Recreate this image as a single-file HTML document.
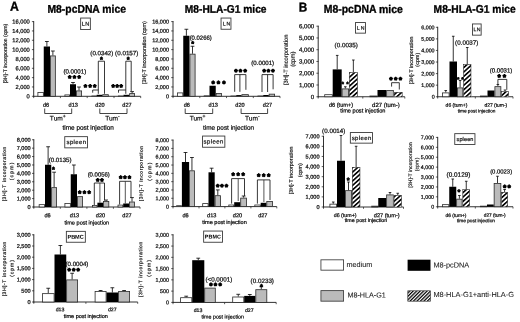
<!DOCTYPE html>
<html lang="en"><head><meta charset="utf-8"><title>Figure</title>
<style>
html,body{margin:0;padding:0;background:#fff}
body{width:520px;height:322px;overflow:hidden}
svg{display:block;filter:blur(0.4px)}
svg text{font-family:"Liberation Sans",sans-serif;text-rendering:geometricPrecision}
</style></head><body>
<svg width="520" height="322" viewBox="0 0 520 322">
<defs>
<pattern id="hatch" patternUnits="userSpaceOnUse" width="3.3" height="3.3" patternTransform="rotate(-42)">
<rect x="0" y="0" width="3.3" height="1.6" fill="#000"/>
</pattern>
<pattern id="hatch2" patternUnits="userSpaceOnUse" width="2.45" height="2.45" patternTransform="rotate(-45)">
<rect x="0" y="0" width="2.45" height="1.25" fill="#000"/>
</pattern>
</defs>
<rect width="520" height="322" fill="#fff"/>
<text transform="translate(9.93 10.83) rotate(0.03) scale(1 1.08)" font-size="12.24" font-weight="bold" fill="#000" stroke="#000" stroke-width="0.3">A</text>
<text transform="translate(47.47 12.67) rotate(0.03) scale(1 1.08)" font-size="10.36" font-weight="bold" fill="#000" stroke="#000" stroke-width="0.3">M8-pcDNA mice</text>
<text transform="translate(184.78 12.77) rotate(0.03) scale(1 1.08)" font-size="10.23" font-weight="bold" fill="#000" stroke="#000" stroke-width="0.3">M8-HLA-G1 mice</text>
<text transform="translate(298.77 11.56) rotate(0.03) scale(1 1.08)" font-size="11.8" font-weight="bold" fill="#000" stroke="#000" stroke-width="0.3">B</text>
<text transform="translate(323.77 12.85) rotate(0.03) scale(1 1.08)" font-size="10.44" font-weight="bold" fill="#000" stroke="#000" stroke-width="0.3">M8-pcDNA mice</text>
<text transform="translate(433.58 12.78) rotate(0.03) scale(1 1.08)" font-size="10.27" font-weight="bold" fill="#000" stroke="#000" stroke-width="0.3">M8-HLA-G1 mice</text>
<line x1="33.7" y1="21.1" x2="33.7" y2="96.7" stroke="#262626" stroke-width="0.95"/>
<line x1="33.3" y1="96.3" x2="140.7" y2="96.3" stroke="#262626" stroke-width="0.95"/>
<line x1="31.9" y1="96.3" x2="34" y2="96.3" stroke="#262626" stroke-width="0.75"/>
<text x="26.61" y="98.31" transform="rotate(0.03 26.61 98.31)" font-size="5.75" stroke="#111111" stroke-width="0.24" fill="#111111">0</text>
<line x1="31.9" y1="86.96" x2="34" y2="86.96" stroke="#262626" stroke-width="0.75"/>
<text x="15.4" y="88.98" transform="rotate(0.03 15.4 88.98)" font-size="5.75" stroke="#111111" stroke-width="0.24" fill="#111111">2,000</text>
<line x1="31.9" y1="77.62" x2="34" y2="77.62" stroke="#262626" stroke-width="0.75"/>
<text x="15.4" y="79.64" transform="rotate(0.03 15.4 79.64)" font-size="5.75" stroke="#111111" stroke-width="0.24" fill="#111111">4,000</text>
<line x1="31.9" y1="68.29" x2="34" y2="68.29" stroke="#262626" stroke-width="0.75"/>
<text x="15.4" y="70.3" transform="rotate(0.03 15.4 70.3)" font-size="5.75" stroke="#111111" stroke-width="0.24" fill="#111111">6,000</text>
<line x1="31.9" y1="58.95" x2="34" y2="58.95" stroke="#262626" stroke-width="0.75"/>
<text x="15.4" y="60.96" transform="rotate(0.03 15.4 60.96)" font-size="5.75" stroke="#111111" stroke-width="0.24" fill="#111111">8,000</text>
<line x1="31.9" y1="49.61" x2="34" y2="49.61" stroke="#262626" stroke-width="0.75"/>
<text x="12.24" y="51.63" transform="rotate(0.03 12.24 51.63)" font-size="5.75" stroke="#111111" stroke-width="0.24" fill="#111111">10,000</text>
<line x1="31.9" y1="40.28" x2="34" y2="40.28" stroke="#262626" stroke-width="0.75"/>
<text x="12.24" y="42.29" transform="rotate(0.03 12.24 42.29)" font-size="5.75" stroke="#111111" stroke-width="0.24" fill="#111111">12,000</text>
<line x1="31.9" y1="30.94" x2="34" y2="30.94" stroke="#262626" stroke-width="0.75"/>
<text x="12.24" y="32.95" transform="rotate(0.03 12.24 32.95)" font-size="5.75" stroke="#111111" stroke-width="0.24" fill="#111111">14,000</text>
<line x1="31.9" y1="21.6" x2="34" y2="21.6" stroke="#262626" stroke-width="0.75"/>
<text x="12.24" y="23.61" transform="rotate(0.03 12.24 23.61)" font-size="5.75" stroke="#111111" stroke-width="0.24" fill="#111111">16,000</text>
<line x1="33.7" y1="96.3" x2="33.7" y2="98.1" stroke="#262626" stroke-width="0.75"/>
<line x1="60.4" y1="96.3" x2="60.4" y2="98.1" stroke="#262626" stroke-width="0.75"/>
<line x1="87.2" y1="96.3" x2="87.2" y2="98.1" stroke="#262626" stroke-width="0.75"/>
<line x1="114" y1="96.3" x2="114" y2="98.1" stroke="#262626" stroke-width="0.75"/>
<line x1="140.7" y1="96.3" x2="140.7" y2="98.1" stroke="#262626" stroke-width="0.75"/>
<text transform="translate(6.89 83.36) rotate(-89.97)" font-size="5.12" fill="#1c1c1c" stroke="#1c1c1c" stroke-width="0.2">[3H]-T incorporation (cpm)</text>
<rect x="80.65" y="18.05" width="9.7" height="11.5" fill="#fff" stroke="#3a3a3a" stroke-width="0.9"/>
<text x="81.85" y="25.66" transform="rotate(0.03 81.85 25.66)" font-size="5.6" letter-spacing="0.33" fill="#000" stroke="#000" stroke-width="0.16">LN</text>
<rect x="37.9" y="92.4" width="5.45" height="3.9" fill="#ffffff" stroke="#2a2a2a" stroke-width="0.8"/>
<line x1="46.88" y1="41.5" x2="46.88" y2="46.5" stroke="#000" stroke-width="0.8"/>
<line x1="44.98" y1="41.5" x2="48.77" y2="41.5" stroke="#000" stroke-width="0.8"/>
<rect x="43.75" y="46.5" width="6.25" height="49.8" fill="#000"/>
<line x1="52.88" y1="51" x2="52.88" y2="55.5" stroke="#000" stroke-width="0.8"/>
<line x1="50.98" y1="51" x2="54.77" y2="51" stroke="#000" stroke-width="0.8"/>
<rect x="50.4" y="55.9" width="4.95" height="40.4" fill="#bbbbbb" stroke="#2a2a2a" stroke-width="0.8"/>
<rect x="64.9" y="94.9" width="4.7" height="1.4" fill="#ffffff" stroke="#2a2a2a" stroke-width="0.8"/>
<line x1="73" y1="82.5" x2="73" y2="84.25" stroke="#000" stroke-width="0.8"/>
<line x1="71.1" y1="82.5" x2="74.9" y2="82.5" stroke="#000" stroke-width="0.8"/>
<rect x="70" y="84.25" width="6" height="12.05" fill="#000"/>
<line x1="79" y1="87" x2="79" y2="90.5" stroke="#000" stroke-width="0.8"/>
<line x1="77.1" y1="87" x2="80.9" y2="87" stroke="#000" stroke-width="0.8"/>
<rect x="76.4" y="90.9" width="5.2" height="5.4" fill="#bbbbbb" stroke="#2a2a2a" stroke-width="0.8"/>
<rect x="91.9" y="96" width="4.3" height="0.3" fill="#ffffff" stroke="#2a2a2a" stroke-width="0.8"/>
<rect x="96.6" y="94.8" width="5.7" height="1.5" fill="#000"/>
<rect x="102.7" y="94.7" width="5.6" height="1.6" fill="#bbbbbb" stroke="#2a2a2a" stroke-width="0.8"/>
<rect x="118.4" y="96" width="4.7" height="0.3" fill="#ffffff" stroke="#2a2a2a" stroke-width="0.8"/>
<rect x="123.5" y="94.8" width="5.7" height="1.5" fill="#000"/>
<line x1="132.1" y1="91.6" x2="132.1" y2="93.2" stroke="#000" stroke-width="0.8"/>
<line x1="130.2" y1="91.6" x2="134" y2="91.6" stroke="#000" stroke-width="0.8"/>
<rect x="129.6" y="93.6" width="5" height="2.7" fill="#bbbbbb" stroke="#2a2a2a" stroke-width="0.8"/>
<text x="63.43" y="73.44" transform="rotate(0.03 63.43 73.44)" font-size="6.11" stroke="#111111" stroke-width="0.24" fill="#111111">(0.0001)</text>
<text x="67.9" y="81.34" transform="rotate(0.03 67.9 81.34)" font-size="8.6" font-weight="bold" letter-spacing="1.45" fill="#000" stroke="#000" stroke-width="0.8" stroke-linejoin="round">***</text>
<text x="83.8" y="90.34" transform="rotate(0.03 83.8 90.34)" font-size="8.6" font-weight="bold" letter-spacing="1.28" fill="#000" stroke="#000" stroke-width="0.8" stroke-linejoin="round">***</text>
<polyline points="92.7,92.7 92.7,90 98.3,90" fill="none" stroke="#151515" stroke-width="0.85"/>
<polyline points="98.3,93.8 98.3,61.2 104.5,61.2 104.5,93.8" fill="none" stroke="#151515" stroke-width="0.85"/>
<text x="90.33" y="55.27" transform="rotate(0.03 90.33 55.27)" font-size="6.19" stroke="#111111" stroke-width="0.24" fill="#111111">(0.0342)</text>
<text x="99.96" y="62.14" transform="rotate(0.03 99.96 62.14)" font-size="7.4" font-weight="bold" letter-spacing="-2.88" fill="#000" stroke="#000" stroke-width="0.6" stroke-linejoin="round">*</text>
<text x="111.4" y="90.34" transform="rotate(0.03 111.4 90.34)" font-size="8.6" font-weight="bold" letter-spacing="0.68" fill="#000" stroke="#000" stroke-width="0.8" stroke-linejoin="round">***</text>
<polyline points="118.5,92.7 118.5,90 125.8,90" fill="none" stroke="#151515" stroke-width="0.85"/>
<polyline points="125.8,93.8 125.8,61.2 131.2,61.2 131.2,91.2" fill="none" stroke="#151515" stroke-width="0.85"/>
<text x="115.12" y="55.29" transform="rotate(0.03 115.12 55.29)" font-size="6.25" stroke="#111111" stroke-width="0.24" fill="#111111">(0.0157)</text>
<text x="126.76" y="62.14" transform="rotate(0.03 126.76 62.14)" font-size="7.4" font-weight="bold" letter-spacing="-2.88" fill="#000" stroke="#000" stroke-width="0.6" stroke-linejoin="round">*</text>
<text x="42.89" y="106.76" transform="rotate(0.03 42.89 106.76)" font-size="5.6" stroke="#111111" stroke-width="0.24" fill="#111111">d6</text>
<text x="68.55" y="106.76" transform="rotate(0.03 68.55 106.76)" font-size="5.6" stroke="#111111" stroke-width="0.24" fill="#111111">d13</text>
<text x="95.32" y="106.76" transform="rotate(0.03 95.32 106.76)" font-size="5.6" stroke="#111111" stroke-width="0.24" fill="#111111">d20</text>
<text x="122.35" y="106.76" transform="rotate(0.03 122.35 106.76)" font-size="5.6" stroke="#111111" stroke-width="0.24" fill="#111111">d27</text>
<polyline points="44.7,108.5 44.7,113.5 71.7,113.5 71.7,108.5" fill="none" stroke="#151515" stroke-width="0.8"/>
<text x="49.87" y="120.51" transform="rotate(0.03 49.87 120.51)" font-size="6.6" fill="#111111" stroke="#111111" stroke-width="0.2">Tum<tspan dy="-2.64" font-size="4.95">+</tspan></text>
<polyline points="99.8,108.5 99.8,113.5 127,113.5 127,108.5" fill="none" stroke="#151515" stroke-width="0.8"/>
<text x="105.17" y="120.51" transform="rotate(0.03 105.17 120.51)" font-size="6.6" fill="#111111" stroke="#111111" stroke-width="0.2">Tum<tspan dy="-2.64" font-size="4.95">-</tspan></text>
<text x="62.54" y="129.8" transform="rotate(0.03 62.54 129.8)" font-size="6.43" stroke="#111111" stroke-width="0.24" fill="#111111">time post injection</text>
<line x1="173" y1="21.1" x2="173" y2="96.7" stroke="#262626" stroke-width="0.95"/>
<line x1="172.6" y1="96.3" x2="280" y2="96.3" stroke="#262626" stroke-width="0.95"/>
<line x1="171.2" y1="96.3" x2="173.3" y2="96.3" stroke="#262626" stroke-width="0.75"/>
<text x="165.94" y="98.22" transform="rotate(0.03 165.94 98.22)" font-size="5.5" stroke="#111111" stroke-width="0.24" fill="#111111">0</text>
<line x1="171.2" y1="86.96" x2="173.3" y2="86.96" stroke="#262626" stroke-width="0.75"/>
<text x="155.22" y="88.89" transform="rotate(0.03 155.22 88.89)" font-size="5.5" stroke="#111111" stroke-width="0.24" fill="#111111">2,000</text>
<line x1="171.2" y1="77.62" x2="173.3" y2="77.62" stroke="#262626" stroke-width="0.75"/>
<text x="155.22" y="79.55" transform="rotate(0.03 155.22 79.55)" font-size="5.5" stroke="#111111" stroke-width="0.24" fill="#111111">4,000</text>
<line x1="171.2" y1="68.29" x2="173.3" y2="68.29" stroke="#262626" stroke-width="0.75"/>
<text x="155.22" y="70.21" transform="rotate(0.03 155.22 70.21)" font-size="5.5" stroke="#111111" stroke-width="0.24" fill="#111111">6,000</text>
<line x1="171.2" y1="58.95" x2="173.3" y2="58.95" stroke="#262626" stroke-width="0.75"/>
<text x="155.22" y="60.88" transform="rotate(0.03 155.22 60.88)" font-size="5.5" stroke="#111111" stroke-width="0.24" fill="#111111">8,000</text>
<line x1="171.2" y1="49.61" x2="173.3" y2="49.61" stroke="#262626" stroke-width="0.75"/>
<text x="152.19" y="51.54" transform="rotate(0.03 152.19 51.54)" font-size="5.5" stroke="#111111" stroke-width="0.24" fill="#111111">10,000</text>
<line x1="171.2" y1="40.28" x2="173.3" y2="40.28" stroke="#262626" stroke-width="0.75"/>
<text x="152.19" y="42.2" transform="rotate(0.03 152.19 42.2)" font-size="5.5" stroke="#111111" stroke-width="0.24" fill="#111111">12,000</text>
<line x1="171.2" y1="30.94" x2="173.3" y2="30.94" stroke="#262626" stroke-width="0.75"/>
<text x="152.19" y="32.86" transform="rotate(0.03 152.19 32.86)" font-size="5.5" stroke="#111111" stroke-width="0.24" fill="#111111">14,000</text>
<line x1="171.2" y1="21.6" x2="173.3" y2="21.6" stroke="#262626" stroke-width="0.75"/>
<text x="152.19" y="23.53" transform="rotate(0.03 152.19 23.53)" font-size="5.5" stroke="#111111" stroke-width="0.24" fill="#111111">16,000</text>
<line x1="173" y1="96.3" x2="173" y2="98.1" stroke="#262626" stroke-width="0.75"/>
<line x1="199.8" y1="96.3" x2="199.8" y2="98.1" stroke="#262626" stroke-width="0.75"/>
<line x1="226.5" y1="96.3" x2="226.5" y2="98.1" stroke="#262626" stroke-width="0.75"/>
<line x1="253.3" y1="96.3" x2="253.3" y2="98.1" stroke="#262626" stroke-width="0.75"/>
<line x1="280" y1="96.3" x2="280" y2="98.1" stroke="#262626" stroke-width="0.75"/>
<text transform="translate(145.89 84.08) rotate(-89.97)" font-size="5.4" fill="#1c1c1c" stroke="#1c1c1c" stroke-width="0.2">[3H]-T incorporation (cpm)</text>
<rect x="221.05" y="18.05" width="9.9" height="11.2" fill="#fff" stroke="#3a3a3a" stroke-width="0.9"/>
<text x="222.78" y="25.52" transform="rotate(0.03 222.78 25.52)" font-size="5.2" letter-spacing="0.88" fill="#000" stroke="#000" stroke-width="0.16">LN</text>
<rect x="177.4" y="92.9" width="5.45" height="3.4" fill="#ffffff" stroke="#2a2a2a" stroke-width="0.8"/>
<line x1="186.38" y1="29.25" x2="186.38" y2="35.75" stroke="#000" stroke-width="0.8"/>
<line x1="184.47" y1="29.25" x2="188.28" y2="29.25" stroke="#000" stroke-width="0.8"/>
<rect x="183.25" y="35.75" width="6.25" height="60.55" fill="#000"/>
<line x1="192.5" y1="46.25" x2="192.5" y2="53.75" stroke="#000" stroke-width="0.8"/>
<line x1="190.6" y1="46.25" x2="194.4" y2="46.25" stroke="#000" stroke-width="0.8"/>
<rect x="189.9" y="54.15" width="5.2" height="42.15" fill="#bbbbbb" stroke="#2a2a2a" stroke-width="0.8"/>
<rect x="204.15" y="95.8" width="4.95" height="0.5" fill="#ffffff" stroke="#2a2a2a" stroke-width="0.8"/>
<rect x="209.5" y="85.75" width="6.25" height="10.55" fill="#000"/>
<rect x="216.15" y="93.4" width="5.45" height="2.9" fill="#bbbbbb" stroke="#2a2a2a" stroke-width="0.8"/>
<rect x="230.9" y="96" width="4.95" height="0.3" fill="#ffffff" stroke="#2a2a2a" stroke-width="0.8"/>
<rect x="236.25" y="95.1" width="5.25" height="1.2" fill="#000"/>
<rect x="241.9" y="94.65" width="6.45" height="1.65" fill="#bbbbbb" stroke="#2a2a2a" stroke-width="0.8"/>
<rect x="257.9" y="96" width="4.95" height="0.3" fill="#ffffff" stroke="#2a2a2a" stroke-width="0.8"/>
<rect x="263.25" y="95" width="5.5" height="1.3" fill="#000"/>
<rect x="269.15" y="94.15" width="5.45" height="2.15" fill="#bbbbbb" stroke="#2a2a2a" stroke-width="0.8"/>
<text x="189.64" y="39.78" transform="rotate(0.03 189.64 39.78)" font-size="5.94" stroke="#111111" stroke-width="0.24" fill="#111111">(0.0266)</text>
<text x="191.26" y="46.24" transform="rotate(0.03 191.26 46.24)" font-size="7.4" font-weight="bold" letter-spacing="-2.88" fill="#000" stroke="#000" stroke-width="0.6" stroke-linejoin="round">*</text>
<text x="211.4" y="86.84" transform="rotate(0.03 211.4 86.84)" font-size="8.6" font-weight="bold" letter-spacing="2.08" fill="#000" stroke="#000" stroke-width="0.8" stroke-linejoin="round">***</text>
<text x="234.15" y="75.09" transform="rotate(0.03 234.15 75.09)" font-size="8.6" font-weight="bold" letter-spacing="1.33" fill="#000" stroke="#000" stroke-width="0.8" stroke-linejoin="round">***</text>
<polyline points="234.7,91.8 234.7,74.6 245.9,74.6 245.9,89.8" fill="none" stroke="#151515" stroke-width="0.85"/>
<line x1="239.9" y1="74.6" x2="239.9" y2="91.8" stroke="#151515" stroke-width="0.85"/>
<text x="251.33" y="65.05" transform="rotate(0.03 251.33 65.05)" font-size="6.14" stroke="#111111" stroke-width="0.24" fill="#111111">(0.0001)</text>
<text x="262.4" y="75.09" transform="rotate(0.03 262.4 75.09)" font-size="8.6" font-weight="bold" letter-spacing="1.08" fill="#000" stroke="#000" stroke-width="0.8" stroke-linejoin="round">***</text>
<polyline points="262,92 262,74.6 273.1,74.6 273.1,89.3" fill="none" stroke="#151515" stroke-width="0.85"/>
<line x1="267.6" y1="74.6" x2="267.6" y2="92" stroke="#151515" stroke-width="0.85"/>
<text x="183.64" y="106.76" transform="rotate(0.03 183.64 106.76)" font-size="5.6" stroke="#111111" stroke-width="0.24" fill="#111111">d6</text>
<text x="208.6" y="106.76" transform="rotate(0.03 208.6 106.76)" font-size="5.6" stroke="#111111" stroke-width="0.24" fill="#111111">d13</text>
<text x="235.32" y="106.76" transform="rotate(0.03 235.32 106.76)" font-size="5.6" stroke="#111111" stroke-width="0.24" fill="#111111">d20</text>
<text x="262.85" y="106.76" transform="rotate(0.03 262.85 106.76)" font-size="5.6" stroke="#111111" stroke-width="0.24" fill="#111111">d27</text>
<polyline points="185.2,108.5 185.2,113.5 212.7,113.5 212.7,108.5" fill="none" stroke="#151515" stroke-width="0.8"/>
<text x="189.67" y="120.51" transform="rotate(0.03 189.67 120.51)" font-size="6.6" fill="#111111" stroke="#111111" stroke-width="0.2">Tum<tspan dy="-2.64" font-size="4.95">+</tspan></text>
<polyline points="241.1,108.5 241.1,113.5 267.6,113.5 267.6,108.5" fill="none" stroke="#151515" stroke-width="0.8"/>
<text x="244.97" y="120.51" transform="rotate(0.03 244.97 120.51)" font-size="6.6" fill="#111111" stroke="#111111" stroke-width="0.2">Tum<tspan dy="-2.64" font-size="4.95">-</tspan></text>
<text x="202.94" y="129.8" transform="rotate(0.03 202.94 129.8)" font-size="6.4" stroke="#111111" stroke-width="0.24" fill="#111111">time post injection</text>
<line x1="33.8" y1="139.25" x2="33.8" y2="207.4" stroke="#262626" stroke-width="0.95"/>
<line x1="33.4" y1="207" x2="140" y2="207" stroke="#262626" stroke-width="0.95"/>
<line x1="32" y1="207" x2="34.1" y2="207" stroke="#262626" stroke-width="0.75"/>
<text x="27.59" y="208.96" transform="rotate(0.03 27.59 208.96)" font-size="5.6" stroke="#111111" stroke-width="0.24" fill="#111111">0</text>
<line x1="32" y1="198.59" x2="34.1" y2="198.59" stroke="#262626" stroke-width="0.75"/>
<text x="16.67" y="200.55" transform="rotate(0.03 16.67 200.55)" font-size="5.6" stroke="#111111" stroke-width="0.24" fill="#111111">1,000</text>
<line x1="32" y1="190.19" x2="34.1" y2="190.19" stroke="#262626" stroke-width="0.75"/>
<text x="16.67" y="192.15" transform="rotate(0.03 16.67 192.15)" font-size="5.6" stroke="#111111" stroke-width="0.24" fill="#111111">2,000</text>
<line x1="32" y1="181.78" x2="34.1" y2="181.78" stroke="#262626" stroke-width="0.75"/>
<text x="16.67" y="183.74" transform="rotate(0.03 16.67 183.74)" font-size="5.6" stroke="#111111" stroke-width="0.24" fill="#111111">3,000</text>
<line x1="32" y1="173.38" x2="34.1" y2="173.38" stroke="#262626" stroke-width="0.75"/>
<text x="16.67" y="175.34" transform="rotate(0.03 16.67 175.34)" font-size="5.6" stroke="#111111" stroke-width="0.24" fill="#111111">4,000</text>
<line x1="32" y1="164.97" x2="34.1" y2="164.97" stroke="#262626" stroke-width="0.75"/>
<text x="16.67" y="166.93" transform="rotate(0.03 16.67 166.93)" font-size="5.6" stroke="#111111" stroke-width="0.24" fill="#111111">5,000</text>
<line x1="32" y1="156.56" x2="34.1" y2="156.56" stroke="#262626" stroke-width="0.75"/>
<text x="16.67" y="158.52" transform="rotate(0.03 16.67 158.52)" font-size="5.6" stroke="#111111" stroke-width="0.24" fill="#111111">6,000</text>
<line x1="32" y1="148.16" x2="34.1" y2="148.16" stroke="#262626" stroke-width="0.75"/>
<text x="16.67" y="150.12" transform="rotate(0.03 16.67 150.12)" font-size="5.6" stroke="#111111" stroke-width="0.24" fill="#111111">7,000</text>
<line x1="32" y1="139.75" x2="34.1" y2="139.75" stroke="#262626" stroke-width="0.75"/>
<text x="16.67" y="141.71" transform="rotate(0.03 16.67 141.71)" font-size="5.6" stroke="#111111" stroke-width="0.24" fill="#111111">8,000</text>
<line x1="33.8" y1="207" x2="33.8" y2="208.8" stroke="#262626" stroke-width="0.75"/>
<line x1="60.3" y1="207" x2="60.3" y2="208.8" stroke="#262626" stroke-width="0.75"/>
<line x1="86.9" y1="207" x2="86.9" y2="208.8" stroke="#262626" stroke-width="0.75"/>
<line x1="113.4" y1="207" x2="113.4" y2="208.8" stroke="#262626" stroke-width="0.75"/>
<line x1="140" y1="207" x2="140" y2="208.8" stroke="#262626" stroke-width="0.75"/>
<text transform="translate(6 201.35) rotate(-89.97)" font-size="5" letter-spacing="0.56" fill="#1c1c1c" stroke="#1c1c1c" stroke-width="0.2">[3H]-T incorporation</text>
<text transform="translate(13.15 180.3) rotate(-89.97)" font-size="5" letter-spacing="1.21" fill="#1c1c1c" stroke="#1c1c1c" stroke-width="0.2">(cpm)</text>
<rect x="64.75" y="136.65" width="22.7" height="11.2" fill="#fff" stroke="#3a3a3a" stroke-width="0.9"/>
<text x="66.52" y="144.09" transform="rotate(0.03 66.52 144.09)" font-size="6" letter-spacing="0.38" fill="#000" stroke="#000" stroke-width="0.16">spleen</text>
<rect x="39.15" y="204.65" width="5.45" height="2.35" fill="#ffffff" stroke="#2a2a2a" stroke-width="0.8"/>
<line x1="48.12" y1="146.75" x2="48.12" y2="164.75" stroke="#000" stroke-width="0.8"/>
<line x1="46.23" y1="146.75" x2="50.02" y2="146.75" stroke="#000" stroke-width="0.8"/>
<rect x="45" y="164.75" width="6.25" height="42.25" fill="#000"/>
<line x1="54.12" y1="172.2" x2="54.12" y2="187.25" stroke="#000" stroke-width="0.8"/>
<line x1="52.23" y1="172.2" x2="56.02" y2="172.2" stroke="#000" stroke-width="0.8"/>
<rect x="51.65" y="187.65" width="4.95" height="19.35" fill="#bbbbbb" stroke="#2a2a2a" stroke-width="0.8"/>
<rect x="64.9" y="203.4" width="5.45" height="3.6" fill="#ffffff" stroke="#2a2a2a" stroke-width="0.8"/>
<line x1="73.88" y1="165" x2="73.88" y2="174.25" stroke="#000" stroke-width="0.8"/>
<line x1="71.97" y1="165" x2="75.78" y2="165" stroke="#000" stroke-width="0.8"/>
<rect x="70.75" y="174.25" width="6.25" height="32.75" fill="#000"/>
<rect x="77.4" y="196.65" width="5.2" height="10.35" fill="#bbbbbb" stroke="#2a2a2a" stroke-width="0.8"/>
<rect x="92.4" y="205.4" width="4.6" height="1.6" fill="#ffffff" stroke="#2a2a2a" stroke-width="0.8"/>
<rect x="97.4" y="202.7" width="5.6" height="4.3" fill="#000"/>
<line x1="106.1" y1="200" x2="106.1" y2="201" stroke="#000" stroke-width="0.8"/>
<line x1="104.2" y1="200" x2="108" y2="200" stroke="#000" stroke-width="0.8"/>
<rect x="103.4" y="201.4" width="5.4" height="5.6" fill="#bbbbbb" stroke="#2a2a2a" stroke-width="0.8"/>
<rect x="118" y="205.1" width="4.8" height="1.9" fill="#ffffff" stroke="#2a2a2a" stroke-width="0.8"/>
<rect x="123.2" y="203.5" width="5.8" height="3.5" fill="#000"/>
<line x1="132" y1="197.6" x2="132" y2="201.6" stroke="#000" stroke-width="0.8"/>
<line x1="130.1" y1="197.6" x2="133.9" y2="197.6" stroke="#000" stroke-width="0.8"/>
<rect x="129.4" y="202" width="5.2" height="5" fill="#bbbbbb" stroke="#2a2a2a" stroke-width="0.8"/>
<text x="48.73" y="162.05" transform="rotate(0.03 48.73 162.05)" font-size="6.14" stroke="#111111" stroke-width="0.24" fill="#111111">(0.0135)</text>
<text x="52.06" y="171.94" transform="rotate(0.03 52.06 171.94)" font-size="7.4" font-weight="bold" letter-spacing="-2.88" fill="#000" stroke="#000" stroke-width="0.6" stroke-linejoin="round">*</text>
<text x="77.9" y="196.59" transform="rotate(0.03 77.9 196.59)" font-size="8.6" font-weight="bold" letter-spacing="1.45" fill="#000" stroke="#000" stroke-width="0.8" stroke-linejoin="round">***</text>
<text x="87.64" y="176.39" transform="rotate(0.03 87.64 176.39)" font-size="5.97" stroke="#111111" stroke-width="0.24" fill="#111111">(0.0056)</text>
<text x="95.9" y="184.24" transform="rotate(0.03 95.9 184.24)" font-size="8.6" font-weight="bold" letter-spacing="1" fill="#000" stroke="#000" stroke-width="0.8" stroke-linejoin="round">**</text>
<polyline points="94.3,205 94.3,183 104.5,183 104.5,200.5" fill="none" stroke="#151515" stroke-width="0.85"/>
<line x1="99.9" y1="183" x2="99.9" y2="202.7" stroke="#2a2a2a" stroke-width="0.8"/>
<text x="119" y="181.44" transform="rotate(0.03 119 181.44)" font-size="8.6" font-weight="bold" letter-spacing="0.98" fill="#000" stroke="#000" stroke-width="0.8" stroke-linejoin="round">***</text>
<polyline points="119.6,204.5 119.6,181.3 131,181.3 131,197.8" fill="none" stroke="#151515" stroke-width="0.85"/>
<line x1="125.3" y1="181.3" x2="125.3" y2="203.5" stroke="#2a2a2a" stroke-width="0.8"/>
<text x="44.39" y="217.26" transform="rotate(0.03 44.39 217.26)" font-size="5.6" stroke="#111111" stroke-width="0.24" fill="#111111">d6</text>
<text x="69.85" y="217.26" transform="rotate(0.03 69.85 217.26)" font-size="5.6" stroke="#111111" stroke-width="0.24" fill="#111111">d13</text>
<text x="95.82" y="217.26" transform="rotate(0.03 95.82 217.26)" font-size="5.6" stroke="#111111" stroke-width="0.24" fill="#111111">d20</text>
<text x="122.35" y="217.26" transform="rotate(0.03 122.35 217.26)" font-size="5.6" stroke="#111111" stroke-width="0.24" fill="#111111">d27</text>
<text x="64.44" y="224.48" transform="rotate(0.03 64.44 224.48)" font-size="5.58" stroke="#111111" stroke-width="0.24" fill="#111111">time post injection</text>
<line x1="173" y1="139.6" x2="173" y2="207" stroke="#262626" stroke-width="0.95"/>
<line x1="172.6" y1="206.6" x2="276.8" y2="206.6" stroke="#262626" stroke-width="0.95"/>
<line x1="171.2" y1="206.6" x2="173.3" y2="206.6" stroke="#262626" stroke-width="0.75"/>
<text x="165.99" y="208.49" transform="rotate(0.03 165.99 208.49)" font-size="5.4" stroke="#111111" stroke-width="0.24" fill="#111111">0</text>
<line x1="171.2" y1="198.29" x2="173.3" y2="198.29" stroke="#262626" stroke-width="0.75"/>
<text x="155.46" y="200.18" transform="rotate(0.03 155.46 200.18)" font-size="5.4" stroke="#111111" stroke-width="0.24" fill="#111111">1,000</text>
<line x1="171.2" y1="189.97" x2="173.3" y2="189.97" stroke="#262626" stroke-width="0.75"/>
<text x="155.46" y="191.86" transform="rotate(0.03 155.46 191.86)" font-size="5.4" stroke="#111111" stroke-width="0.24" fill="#111111">2,000</text>
<line x1="171.2" y1="181.66" x2="173.3" y2="181.66" stroke="#262626" stroke-width="0.75"/>
<text x="155.46" y="183.55" transform="rotate(0.03 155.46 183.55)" font-size="5.4" stroke="#111111" stroke-width="0.24" fill="#111111">3,000</text>
<line x1="171.2" y1="173.35" x2="173.3" y2="173.35" stroke="#262626" stroke-width="0.75"/>
<text x="155.46" y="175.24" transform="rotate(0.03 155.46 175.24)" font-size="5.4" stroke="#111111" stroke-width="0.24" fill="#111111">4,000</text>
<line x1="171.2" y1="165.04" x2="173.3" y2="165.04" stroke="#262626" stroke-width="0.75"/>
<text x="155.46" y="166.93" transform="rotate(0.03 155.46 166.93)" font-size="5.4" stroke="#111111" stroke-width="0.24" fill="#111111">5,000</text>
<line x1="171.2" y1="156.72" x2="173.3" y2="156.72" stroke="#262626" stroke-width="0.75"/>
<text x="155.46" y="158.61" transform="rotate(0.03 155.46 158.61)" font-size="5.4" stroke="#111111" stroke-width="0.24" fill="#111111">6,000</text>
<line x1="171.2" y1="148.41" x2="173.3" y2="148.41" stroke="#262626" stroke-width="0.75"/>
<text x="155.46" y="150.3" transform="rotate(0.03 155.46 150.3)" font-size="5.4" stroke="#111111" stroke-width="0.24" fill="#111111">7,000</text>
<line x1="171.2" y1="140.1" x2="173.3" y2="140.1" stroke="#262626" stroke-width="0.75"/>
<text x="155.46" y="141.99" transform="rotate(0.03 155.46 141.99)" font-size="5.4" stroke="#111111" stroke-width="0.24" fill="#111111">8,000</text>
<line x1="173" y1="206.6" x2="173" y2="208.4" stroke="#262626" stroke-width="0.75"/>
<line x1="199" y1="206.6" x2="199" y2="208.4" stroke="#262626" stroke-width="0.75"/>
<line x1="224.9" y1="206.6" x2="224.9" y2="208.4" stroke="#262626" stroke-width="0.75"/>
<line x1="250.9" y1="206.6" x2="250.9" y2="208.4" stroke="#262626" stroke-width="0.75"/>
<line x1="276.8" y1="206.6" x2="276.8" y2="208.4" stroke="#262626" stroke-width="0.75"/>
<text transform="translate(142.85 201.15) rotate(-89.97)" font-size="5" letter-spacing="0.59" fill="#1c1c1c" stroke="#1c1c1c" stroke-width="0.2">[3H]-T incorporation</text>
<text transform="translate(151.25 180.8) rotate(-89.97)" font-size="5" letter-spacing="1.34" fill="#1c1c1c" stroke="#1c1c1c" stroke-width="0.2">(cpm)</text>
<rect x="202.55" y="136.05" width="22.3" height="11.2" fill="#fff" stroke="#3a3a3a" stroke-width="0.9"/>
<text x="203.62" y="143.49" transform="rotate(0.03 203.62 143.49)" font-size="6" letter-spacing="0.42" fill="#000" stroke="#000" stroke-width="0.16">spleen</text>
<rect x="176.6" y="205.7" width="4.9" height="0.9" fill="#ffffff" stroke="#2a2a2a" stroke-width="0.8"/>
<line x1="185.5" y1="152.5" x2="185.5" y2="162" stroke="#000" stroke-width="0.8"/>
<line x1="183.6" y1="152.5" x2="187.4" y2="152.5" stroke="#000" stroke-width="0.8"/>
<rect x="181.9" y="162" width="7.2" height="44.6" fill="#000"/>
<line x1="191.95" y1="157.5" x2="191.95" y2="170.4" stroke="#000" stroke-width="0.8"/>
<line x1="190.05" y1="157.5" x2="193.85" y2="157.5" stroke="#000" stroke-width="0.8"/>
<rect x="189.5" y="170.8" width="4.9" height="35.8" fill="#bbbbbb" stroke="#2a2a2a" stroke-width="0.8"/>
<rect x="202.7" y="203.6" width="5.4" height="3" fill="#ffffff" stroke="#2a2a2a" stroke-width="0.8"/>
<line x1="211.6" y1="168.2" x2="211.6" y2="172.3" stroke="#000" stroke-width="0.8"/>
<line x1="209.7" y1="168.2" x2="213.5" y2="168.2" stroke="#000" stroke-width="0.8"/>
<rect x="208.5" y="172.3" width="6.2" height="34.3" fill="#000"/>
<line x1="217.8" y1="189.9" x2="217.8" y2="195.3" stroke="#000" stroke-width="0.8"/>
<line x1="215.9" y1="189.9" x2="219.7" y2="189.9" stroke="#000" stroke-width="0.8"/>
<rect x="215.1" y="195.7" width="5.4" height="10.9" fill="#bbbbbb" stroke="#2a2a2a" stroke-width="0.8"/>
<rect x="228.8" y="205" width="5" height="1.6" fill="#ffffff" stroke="#2a2a2a" stroke-width="0.8"/>
<rect x="234.2" y="202.2" width="6.1" height="4.4" fill="#000"/>
<line x1="243.65" y1="196" x2="243.65" y2="197.7" stroke="#000" stroke-width="0.8"/>
<line x1="241.75" y1="196" x2="245.55" y2="196" stroke="#000" stroke-width="0.8"/>
<rect x="240.7" y="198.1" width="5.9" height="8.5" fill="#bbbbbb" stroke="#2a2a2a" stroke-width="0.8"/>
<rect x="254.8" y="205" width="5.5" height="1.6" fill="#ffffff" stroke="#2a2a2a" stroke-width="0.8"/>
<rect x="260.7" y="202.8" width="5.7" height="3.8" fill="#000"/>
<rect x="266.8" y="201.4" width="5.8" height="5.2" fill="#bbbbbb" stroke="#2a2a2a" stroke-width="0.8"/>
<text x="215.9" y="189.94" transform="rotate(0.03 215.9 189.94)" font-size="8.6" font-weight="bold" letter-spacing="1.08" fill="#000" stroke="#000" stroke-width="0.8" stroke-linejoin="round">***</text>
<text x="231.4" y="178.54" transform="rotate(0.03 231.4 178.54)" font-size="8.6" font-weight="bold" letter-spacing="1.68" fill="#000" stroke="#000" stroke-width="0.8" stroke-linejoin="round">***</text>
<polyline points="231.6,203.6 231.6,178.6 244.5,178.6 244.5,196" fill="none" stroke="#151515" stroke-width="0.85"/>
<line x1="238.2" y1="178.6" x2="238.2" y2="201" stroke="#2a2a2a" stroke-width="0.8"/>
<text x="256.9" y="179.54" transform="rotate(0.03 256.9 179.54)" font-size="8.6" font-weight="bold" letter-spacing="1.73" fill="#000" stroke="#000" stroke-width="0.8" stroke-linejoin="round">***</text>
<polyline points="257.4,203.6 257.4,179.9 270,179.9 270,200" fill="none" stroke="#151515" stroke-width="0.85"/>
<line x1="263.9" y1="179.9" x2="263.9" y2="202" stroke="#2a2a2a" stroke-width="0.8"/>
<text x="182.49" y="217.16" transform="rotate(0.03 182.49 217.16)" font-size="5.6" stroke="#111111" stroke-width="0.24" fill="#111111">d6</text>
<text x="207.05" y="217.16" transform="rotate(0.03 207.05 217.16)" font-size="5.6" stroke="#111111" stroke-width="0.24" fill="#111111">d13</text>
<text x="232.82" y="217.16" transform="rotate(0.03 232.82 217.16)" font-size="5.6" stroke="#111111" stroke-width="0.24" fill="#111111">d20</text>
<text x="258.15" y="217.16" transform="rotate(0.03 258.15 217.16)" font-size="5.6" stroke="#111111" stroke-width="0.24" fill="#111111">d27</text>
<text x="202.24" y="224.08" transform="rotate(0.03 202.24 224.08)" font-size="5.57" stroke="#111111" stroke-width="0.24" fill="#111111">time post injection</text>
<line x1="33.8" y1="234.3" x2="33.8" y2="302.4" stroke="#262626" stroke-width="0.95"/>
<line x1="33.4" y1="302" x2="137.7" y2="302" stroke="#262626" stroke-width="0.95"/>
<line x1="32" y1="302" x2="34.1" y2="302" stroke="#262626" stroke-width="0.75"/>
<text x="27.59" y="303.96" transform="rotate(0.03 27.59 303.96)" font-size="5.6" stroke="#111111" stroke-width="0.24" fill="#111111">0</text>
<line x1="32" y1="290.8" x2="34.1" y2="290.8" stroke="#262626" stroke-width="0.75"/>
<text x="21.37" y="292.76" transform="rotate(0.03 21.37 292.76)" font-size="5.6" stroke="#111111" stroke-width="0.24" fill="#111111">500</text>
<line x1="32" y1="279.6" x2="34.1" y2="279.6" stroke="#262626" stroke-width="0.75"/>
<text x="16.67" y="281.56" transform="rotate(0.03 16.67 281.56)" font-size="5.6" stroke="#111111" stroke-width="0.24" fill="#111111">1,000</text>
<line x1="32" y1="268.4" x2="34.1" y2="268.4" stroke="#262626" stroke-width="0.75"/>
<text x="16.67" y="270.36" transform="rotate(0.03 16.67 270.36)" font-size="5.6" stroke="#111111" stroke-width="0.24" fill="#111111">1,500</text>
<line x1="32" y1="257.2" x2="34.1" y2="257.2" stroke="#262626" stroke-width="0.75"/>
<text x="16.67" y="259.16" transform="rotate(0.03 16.67 259.16)" font-size="5.6" stroke="#111111" stroke-width="0.24" fill="#111111">2,000</text>
<line x1="32" y1="246" x2="34.1" y2="246" stroke="#262626" stroke-width="0.75"/>
<text x="16.67" y="247.96" transform="rotate(0.03 16.67 247.96)" font-size="5.6" stroke="#111111" stroke-width="0.24" fill="#111111">2,500</text>
<line x1="32" y1="234.8" x2="34.1" y2="234.8" stroke="#262626" stroke-width="0.75"/>
<text x="16.67" y="236.76" transform="rotate(0.03 16.67 236.76)" font-size="5.6" stroke="#111111" stroke-width="0.24" fill="#111111">3,000</text>
<line x1="33.8" y1="302" x2="33.8" y2="303.8" stroke="#262626" stroke-width="0.75"/>
<line x1="85.9" y1="302" x2="85.9" y2="303.8" stroke="#262626" stroke-width="0.75"/>
<line x1="137.7" y1="302" x2="137.7" y2="303.8" stroke="#262626" stroke-width="0.75"/>
<text transform="translate(6 296.35) rotate(-89.97)" font-size="5" letter-spacing="0.56" fill="#1c1c1c" stroke="#1c1c1c" stroke-width="0.2">[3H]-T incorporation</text>
<text transform="translate(13.55 276.8) rotate(-89.97)" font-size="5" letter-spacing="0.96" fill="#1c1c1c" stroke="#1c1c1c" stroke-width="0.2">(cpm)</text>
<rect x="66.35" y="231.35" width="19" height="10.9" fill="#fff" stroke="#3a3a3a" stroke-width="0.9"/>
<text x="67.61" y="238.66" transform="rotate(0.03 67.61 238.66)" font-size="5.6" font-weight="bold" letter-spacing="-0.13" fill="#000" stroke="#000" stroke-width="0">PBMC</text>
<line x1="48.25" y1="288.25" x2="48.25" y2="293.25" stroke="#000" stroke-width="0.8"/>
<line x1="46.35" y1="288.25" x2="50.15" y2="288.25" stroke="#000" stroke-width="0.8"/>
<rect x="42.4" y="293.65" width="11.7" height="8.35" fill="#ffffff" stroke="#2a2a2a" stroke-width="0.8"/>
<line x1="60.38" y1="245.5" x2="60.38" y2="254.5" stroke="#000" stroke-width="0.8"/>
<line x1="58.48" y1="245.5" x2="62.27" y2="245.5" stroke="#000" stroke-width="0.8"/>
<rect x="54.5" y="254.5" width="11.75" height="47.5" fill="#000"/>
<line x1="72.12" y1="273.25" x2="72.12" y2="279.5" stroke="#000" stroke-width="0.8"/>
<line x1="70.22" y1="273.25" x2="74.03" y2="273.25" stroke="#000" stroke-width="0.8"/>
<rect x="66.65" y="279.9" width="10.95" height="22.1" fill="#bbbbbb" stroke="#2a2a2a" stroke-width="0.8"/>
<line x1="100.6" y1="290.5" x2="100.6" y2="291.1" stroke="#000" stroke-width="0.8"/>
<line x1="98.7" y1="290.5" x2="102.5" y2="290.5" stroke="#000" stroke-width="0.8"/>
<rect x="95.1" y="291.5" width="11" height="10.5" fill="#ffffff" stroke="#2a2a2a" stroke-width="0.8"/>
<line x1="112.35" y1="287.75" x2="112.35" y2="292.5" stroke="#000" stroke-width="0.8"/>
<line x1="110.45" y1="287.75" x2="114.25" y2="287.75" stroke="#000" stroke-width="0.8"/>
<rect x="106.5" y="292.5" width="11.7" height="9.5" fill="#000"/>
<line x1="124.1" y1="290.5" x2="124.1" y2="291.1" stroke="#000" stroke-width="0.8"/>
<line x1="122.2" y1="290.5" x2="126" y2="290.5" stroke="#000" stroke-width="0.8"/>
<rect x="118.6" y="291.5" width="11" height="10.5" fill="#bbbbbb" stroke="#2a2a2a" stroke-width="0.8"/>
<text x="65.53" y="265.95" transform="rotate(0.03 65.53 265.95)" font-size="6.14" stroke="#111111" stroke-width="0.24" fill="#111111">(0.0004)</text>
<text x="67.4" y="274.04" transform="rotate(0.03 67.4 274.04)" font-size="8.6" font-weight="bold" letter-spacing="1.18" fill="#000" stroke="#000" stroke-width="0.8" stroke-linejoin="round">***</text>
<text x="55.68" y="311.32" transform="rotate(0.03 55.68 311.32)" font-size="5.2" stroke="#111111" stroke-width="0.24" fill="#111111">d13</text>
<text x="107.88" y="311.32" transform="rotate(0.03 107.88 311.32)" font-size="5.2" stroke="#111111" stroke-width="0.24" fill="#111111">d27</text>
<text x="63.69" y="317.96" transform="rotate(0.03 63.69 317.96)" font-size="5.52" stroke="#111111" stroke-width="0.24" fill="#111111">time post injection</text>
<line x1="173" y1="234.3" x2="173" y2="302.8" stroke="#262626" stroke-width="0.95"/>
<line x1="172.6" y1="302.4" x2="276.2" y2="302.4" stroke="#262626" stroke-width="0.95"/>
<line x1="171.2" y1="302.4" x2="173.3" y2="302.4" stroke="#262626" stroke-width="0.75"/>
<text x="165.99" y="304.29" transform="rotate(0.03 165.99 304.29)" font-size="5.4" stroke="#111111" stroke-width="0.24" fill="#111111">0</text>
<line x1="171.2" y1="291.13" x2="173.3" y2="291.13" stroke="#262626" stroke-width="0.75"/>
<text x="160" y="293.02" transform="rotate(0.03 160 293.02)" font-size="5.4" stroke="#111111" stroke-width="0.24" fill="#111111">500</text>
<line x1="171.2" y1="279.87" x2="173.3" y2="279.87" stroke="#262626" stroke-width="0.75"/>
<text x="155.46" y="281.76" transform="rotate(0.03 155.46 281.76)" font-size="5.4" stroke="#111111" stroke-width="0.24" fill="#111111">1,000</text>
<line x1="171.2" y1="268.6" x2="173.3" y2="268.6" stroke="#262626" stroke-width="0.75"/>
<text x="155.46" y="270.49" transform="rotate(0.03 155.46 270.49)" font-size="5.4" stroke="#111111" stroke-width="0.24" fill="#111111">1,500</text>
<line x1="171.2" y1="257.33" x2="173.3" y2="257.33" stroke="#262626" stroke-width="0.75"/>
<text x="155.46" y="259.22" transform="rotate(0.03 155.46 259.22)" font-size="5.4" stroke="#111111" stroke-width="0.24" fill="#111111">2,000</text>
<line x1="171.2" y1="246.07" x2="173.3" y2="246.07" stroke="#262626" stroke-width="0.75"/>
<text x="155.46" y="247.96" transform="rotate(0.03 155.46 247.96)" font-size="5.4" stroke="#111111" stroke-width="0.24" fill="#111111">2,500</text>
<line x1="171.2" y1="234.8" x2="173.3" y2="234.8" stroke="#262626" stroke-width="0.75"/>
<text x="155.46" y="236.69" transform="rotate(0.03 155.46 236.69)" font-size="5.4" stroke="#111111" stroke-width="0.24" fill="#111111">3,000</text>
<line x1="173" y1="302.4" x2="173" y2="304.2" stroke="#262626" stroke-width="0.75"/>
<line x1="224.6" y1="302.4" x2="224.6" y2="304.2" stroke="#262626" stroke-width="0.75"/>
<line x1="276.2" y1="302.4" x2="276.2" y2="304.2" stroke="#262626" stroke-width="0.75"/>
<text transform="translate(142.25 297.05) rotate(-89.97)" font-size="5" letter-spacing="0.59" fill="#1c1c1c" stroke="#1c1c1c" stroke-width="0.2">[3H]-T incorporation</text>
<text transform="translate(150.55 276.8) rotate(-89.97)" font-size="5" letter-spacing="0.96" fill="#1c1c1c" stroke="#1c1c1c" stroke-width="0.2">(cpm)</text>
<rect x="203.65" y="231.05" width="18.8" height="11.2" fill="#fff" stroke="#3a3a3a" stroke-width="0.9"/>
<text x="204.82" y="238.59" transform="rotate(0.03 204.82 238.59)" font-size="5.4" font-weight="bold" letter-spacing="0.09" fill="#000" stroke="#000" stroke-width="0">PBMC</text>
<line x1="186.2" y1="296.2" x2="186.2" y2="297.3" stroke="#000" stroke-width="0.8"/>
<line x1="184.3" y1="296.2" x2="188.1" y2="296.2" stroke="#000" stroke-width="0.8"/>
<rect x="180.6" y="297.7" width="11.2" height="4.7" fill="#ffffff" stroke="#2a2a2a" stroke-width="0.8"/>
<line x1="198.25" y1="258.2" x2="198.25" y2="260.2" stroke="#000" stroke-width="0.8"/>
<line x1="196.35" y1="258.2" x2="200.15" y2="258.2" stroke="#000" stroke-width="0.8"/>
<rect x="192.2" y="260.2" width="12.1" height="42.2" fill="#000"/>
<rect x="204.7" y="288.1" width="10.6" height="14.3" fill="#bbbbbb" stroke="#2a2a2a" stroke-width="0.8"/>
<line x1="238.25" y1="294.3" x2="238.25" y2="296.6" stroke="#000" stroke-width="0.8"/>
<line x1="236.35" y1="294.3" x2="240.15" y2="294.3" stroke="#000" stroke-width="0.8"/>
<rect x="232.7" y="297" width="11.1" height="5.4" fill="#ffffff" stroke="#2a2a2a" stroke-width="0.8"/>
<line x1="249.8" y1="294.5" x2="249.8" y2="295.9" stroke="#000" stroke-width="0.8"/>
<line x1="247.9" y1="294.5" x2="251.7" y2="294.5" stroke="#000" stroke-width="0.8"/>
<rect x="244.2" y="295.9" width="11.2" height="6.5" fill="#000"/>
<line x1="261.3" y1="286.7" x2="261.3" y2="289.3" stroke="#000" stroke-width="0.8"/>
<line x1="259.4" y1="286.7" x2="263.2" y2="286.7" stroke="#000" stroke-width="0.8"/>
<rect x="255.8" y="289.7" width="11" height="12.7" fill="#bbbbbb" stroke="#2a2a2a" stroke-width="0.8"/>
<text x="205.42" y="281.39" transform="rotate(0.03 205.42 281.39)" font-size="6.25" stroke="#111111" stroke-width="0.24" fill="#111111">(&lt;0.0001)</text>
<text x="209.2" y="288.64" transform="rotate(0.03 209.2 288.64)" font-size="8.6" font-weight="bold" letter-spacing="1.33" fill="#000" stroke="#000" stroke-width="0.8" stroke-linejoin="round">***</text>
<text x="250.62" y="282.9" transform="rotate(0.03 250.62 282.9)" font-size="6.28" stroke="#111111" stroke-width="0.24" fill="#111111">(0.0233)</text>
<text x="260.06" y="289.14" transform="rotate(0.03 260.06 289.14)" font-size="7.4" font-weight="bold" letter-spacing="-2.88" fill="#000" stroke="#000" stroke-width="0.6" stroke-linejoin="round">*</text>
<text x="193.68" y="312.02" transform="rotate(0.03 193.68 312.02)" font-size="5.2" stroke="#111111" stroke-width="0.24" fill="#111111">d13</text>
<text x="244.98" y="312.02" transform="rotate(0.03 244.98 312.02)" font-size="5.2" stroke="#111111" stroke-width="0.24" fill="#111111">d27</text>
<text x="201.45" y="318.41" transform="rotate(0.03 201.45 318.41)" font-size="5.32" stroke="#111111" stroke-width="0.24" fill="#111111">time post injection</text>
<line x1="318.2" y1="25.7" x2="318.2" y2="97.15" stroke="#262626" stroke-width="0.95"/>
<line x1="317.8" y1="96.75" x2="404.8" y2="96.75" stroke="#262626" stroke-width="0.95"/>
<line x1="316.4" y1="96.75" x2="318.5" y2="96.75" stroke="#262626" stroke-width="0.75"/>
<text x="310.83" y="98.89" transform="rotate(0.03 310.83 98.89)" font-size="6.1" stroke="#111111" stroke-width="0.24" fill="#111111">0</text>
<line x1="316.4" y1="84.99" x2="318.5" y2="84.99" stroke="#262626" stroke-width="0.75"/>
<text x="298.93" y="87.13" transform="rotate(0.03 298.93 87.13)" font-size="6.1" stroke="#111111" stroke-width="0.24" fill="#111111">1,000</text>
<line x1="316.4" y1="73.23" x2="318.5" y2="73.23" stroke="#262626" stroke-width="0.75"/>
<text x="298.93" y="75.37" transform="rotate(0.03 298.93 75.37)" font-size="6.1" stroke="#111111" stroke-width="0.24" fill="#111111">2,000</text>
<line x1="316.4" y1="61.48" x2="318.5" y2="61.48" stroke="#262626" stroke-width="0.75"/>
<text x="298.93" y="63.61" transform="rotate(0.03 298.93 63.61)" font-size="6.1" stroke="#111111" stroke-width="0.24" fill="#111111">3,000</text>
<line x1="316.4" y1="49.72" x2="318.5" y2="49.72" stroke="#262626" stroke-width="0.75"/>
<text x="298.93" y="51.85" transform="rotate(0.03 298.93 51.85)" font-size="6.1" stroke="#111111" stroke-width="0.24" fill="#111111">4,000</text>
<line x1="316.4" y1="37.96" x2="318.5" y2="37.96" stroke="#262626" stroke-width="0.75"/>
<text x="298.93" y="40.09" transform="rotate(0.03 298.93 40.09)" font-size="6.1" stroke="#111111" stroke-width="0.24" fill="#111111">5,000</text>
<line x1="316.4" y1="26.2" x2="318.5" y2="26.2" stroke="#262626" stroke-width="0.75"/>
<text x="298.93" y="28.34" transform="rotate(0.03 298.93 28.34)" font-size="6.1" stroke="#111111" stroke-width="0.24" fill="#111111">6,000</text>
<line x1="318.2" y1="96.75" x2="318.2" y2="98.55" stroke="#262626" stroke-width="0.75"/>
<line x1="362.8" y1="96.75" x2="362.8" y2="98.55" stroke="#262626" stroke-width="0.75"/>
<line x1="404.8" y1="96.75" x2="404.8" y2="98.55" stroke="#262626" stroke-width="0.75"/>
<text transform="translate(287.7 85.1) rotate(-89.97)" font-size="5.73" fill="#1c1c1c" stroke="#1c1c1c" stroke-width="0.2">[3H]-T incorporation</text>
<text transform="translate(294.79 66.86) rotate(-89.97)" font-size="5.97" fill="#1c1c1c" stroke="#1c1c1c" stroke-width="0.2">(cpm)</text>
<rect x="355.55" y="22.55" width="10" height="10.6" fill="#fff" stroke="#3a3a3a" stroke-width="0.9"/>
<text x="356.68" y="29.82" transform="rotate(0.03 356.68 29.82)" font-size="5.2" letter-spacing="1.28" fill="#000" stroke="#000" stroke-width="0.16">LN</text>
<rect x="324.7" y="94.7" width="7.6" height="2.05" fill="#ffffff" stroke="#2a2a2a" stroke-width="0.8"/>
<line x1="337.2" y1="55.4" x2="337.2" y2="69.4" stroke="#000" stroke-width="0.8"/>
<line x1="335.9" y1="55.4" x2="338.5" y2="55.4" stroke="#000" stroke-width="0.8"/>
<rect x="332.7" y="69.4" width="9" height="27.35" fill="#000"/>
<line x1="345.35" y1="86.75" x2="345.35" y2="88.5" stroke="#000" stroke-width="0.8"/>
<line x1="344.05" y1="86.75" x2="346.65" y2="86.75" stroke="#000" stroke-width="0.8"/>
<rect x="342.1" y="88.9" width="6.5" height="7.85" fill="#bbbbbb" stroke="#2a2a2a" stroke-width="0.8"/>
<line x1="353.35" y1="60" x2="353.35" y2="72.2" stroke="#000" stroke-width="0.8"/>
<line x1="352.05" y1="60" x2="354.65" y2="60" stroke="#000" stroke-width="0.8"/>
<rect x="349" y="72.2" width="8.7" height="24.95" fill="#fff" stroke="none" stroke-width="0"/>
<rect x="349.3" y="72.5" width="8.1" height="24.35" fill="url(#hatch)" stroke="#2a2a2a" stroke-width="0.6"/>
<rect x="369.9" y="96" width="7.2" height="0.75" fill="#ffffff" stroke="#2a2a2a" stroke-width="0.8"/>
<rect x="377.5" y="90" width="8.75" height="6.75" fill="#000"/>
<rect x="386.65" y="90.4" width="6.7" height="6.35" fill="#bbbbbb" stroke="#2a2a2a" stroke-width="0.8"/>
<rect x="393.75" y="92" width="8.75" height="5.15" fill="#fff" stroke="none" stroke-width="0"/>
<rect x="394.05" y="92.3" width="8.15" height="4.55" fill="url(#hatch)" stroke="#2a2a2a" stroke-width="0.6"/>
<text x="334.62" y="47.19" transform="rotate(0.03 334.62 47.19)" font-size="6.25" stroke="#111111" stroke-width="0.24" fill="#111111">(0.0035)</text>
<text x="341.55" y="86.23" transform="rotate(0.03 341.55 86.23)" font-size="6.4" font-weight="bold" letter-spacing="2.11" fill="#000" stroke="#000" stroke-width="0.5" stroke-linejoin="round">**</text>
<text x="389.15" y="83.09" transform="rotate(0.03 389.15 83.09)" font-size="8.6" font-weight="bold" letter-spacing="1.45" fill="#000" stroke="#000" stroke-width="0.8" stroke-linejoin="round">***</text>
<polyline points="391.6,86.6 391.6,82.7 399.3,82.7 399.3,89.5" fill="none" stroke="#151515" stroke-width="0.85"/>
<text x="328.98" y="106.86" transform="rotate(0.03 328.98 106.86)" font-size="5.6" stroke="#111111" stroke-width="0.24" fill="#111111">d6 (tum+)</text>
<text x="372.06" y="107" transform="rotate(0.03 372.06 107)" font-size="6.01" stroke="#111111" stroke-width="0.24" fill="#111111">d27 (tum-)</text>
<text x="340.34" y="112.5" transform="rotate(0.03 340.34 112.5)" font-size="5.65" stroke="#111111" stroke-width="0.24" fill="#111111">time post injection</text>
<line x1="437.7" y1="26.8" x2="437.7" y2="97.15" stroke="#262626" stroke-width="0.95"/>
<line x1="437.3" y1="96.75" x2="513" y2="96.75" stroke="#262626" stroke-width="0.95"/>
<line x1="435.9" y1="96.75" x2="438" y2="96.75" stroke="#262626" stroke-width="0.75"/>
<text x="431.64" y="98.61" transform="rotate(0.03 431.64 98.61)" font-size="5.3" stroke="#111111" stroke-width="0.24" fill="#111111">0</text>
<line x1="435.9" y1="85.17" x2="438" y2="85.17" stroke="#262626" stroke-width="0.75"/>
<text x="421.31" y="87.03" transform="rotate(0.03 421.31 87.03)" font-size="5.3" stroke="#111111" stroke-width="0.24" fill="#111111">1,000</text>
<line x1="435.9" y1="73.6" x2="438" y2="73.6" stroke="#262626" stroke-width="0.75"/>
<text x="421.31" y="75.45" transform="rotate(0.03 421.31 75.45)" font-size="5.3" stroke="#111111" stroke-width="0.24" fill="#111111">2,000</text>
<line x1="435.9" y1="62.02" x2="438" y2="62.02" stroke="#262626" stroke-width="0.75"/>
<text x="421.31" y="63.88" transform="rotate(0.03 421.31 63.88)" font-size="5.3" stroke="#111111" stroke-width="0.24" fill="#111111">3,000</text>
<line x1="435.9" y1="50.45" x2="438" y2="50.45" stroke="#262626" stroke-width="0.75"/>
<text x="421.31" y="52.3" transform="rotate(0.03 421.31 52.3)" font-size="5.3" stroke="#111111" stroke-width="0.24" fill="#111111">4,000</text>
<line x1="435.9" y1="38.88" x2="438" y2="38.88" stroke="#262626" stroke-width="0.75"/>
<text x="421.31" y="40.73" transform="rotate(0.03 421.31 40.73)" font-size="5.3" stroke="#111111" stroke-width="0.24" fill="#111111">5,000</text>
<line x1="435.9" y1="27.3" x2="438" y2="27.3" stroke="#262626" stroke-width="0.75"/>
<text x="421.31" y="29.15" transform="rotate(0.03 421.31 29.15)" font-size="5.3" stroke="#111111" stroke-width="0.24" fill="#111111">6,000</text>
<line x1="437.7" y1="96.75" x2="437.7" y2="98.55" stroke="#262626" stroke-width="0.75"/>
<line x1="475.3" y1="96.75" x2="475.3" y2="98.55" stroke="#262626" stroke-width="0.75"/>
<line x1="513" y1="96.75" x2="513" y2="98.55" stroke="#262626" stroke-width="0.75"/>
<text transform="translate(413.02 84.36) rotate(-89.97)" font-size="5.2" letter-spacing="0.1" fill="#1c1c1c" stroke="#1c1c1c" stroke-width="0.2">[3H]-T incorporation</text>
<text transform="translate(419.12 66.81) rotate(-89.97)" font-size="5.2" letter-spacing="0.22" fill="#1c1c1c" stroke="#1c1c1c" stroke-width="0.2">(cpm)</text>
<rect x="472.55" y="23.95" width="8.6" height="11.2" fill="#fff" stroke="#3a3a3a" stroke-width="0.9"/>
<text x="473.58" y="31.32" transform="rotate(0.03 473.58 31.32)" font-size="5.2" letter-spacing="0.28" fill="#000" stroke="#000" stroke-width="0.16">LN</text>
<line x1="445.75" y1="90.5" x2="445.75" y2="92.5" stroke="#000" stroke-width="0.8"/>
<line x1="444.45" y1="90.5" x2="447.05" y2="90.5" stroke="#000" stroke-width="0.8"/>
<rect x="442.4" y="92.9" width="6.7" height="3.85" fill="#ffffff" stroke="#2a2a2a" stroke-width="0.8"/>
<line x1="453.25" y1="36.25" x2="453.25" y2="61.5" stroke="#000" stroke-width="0.8"/>
<line x1="451.95" y1="36.25" x2="454.55" y2="36.25" stroke="#000" stroke-width="0.8"/>
<rect x="449.5" y="61.5" width="7.5" height="35.25" fill="#000"/>
<line x1="460.12" y1="80.5" x2="460.12" y2="87.5" stroke="#000" stroke-width="0.8"/>
<line x1="458.82" y1="80.5" x2="461.43" y2="80.5" stroke="#000" stroke-width="0.8"/>
<rect x="457.4" y="87.9" width="5.45" height="8.85" fill="#bbbbbb" stroke="#2a2a2a" stroke-width="0.8"/>
<line x1="467.25" y1="47.5" x2="467.25" y2="64.25" stroke="#000" stroke-width="0.8"/>
<line x1="465.95" y1="47.5" x2="468.55" y2="47.5" stroke="#000" stroke-width="0.8"/>
<rect x="463.25" y="64.25" width="8" height="32.9" fill="#fff" stroke="none" stroke-width="0"/>
<rect x="463.55" y="64.55" width="7.4" height="32.3" fill="url(#hatch)" stroke="#2a2a2a" stroke-width="0.6"/>
<rect x="480.4" y="96" width="6.7" height="0.75" fill="#ffffff" stroke="#2a2a2a" stroke-width="0.8"/>
<rect x="487.5" y="90.5" width="7" height="6.25" fill="#000"/>
<line x1="497.88" y1="84.5" x2="497.88" y2="86.25" stroke="#000" stroke-width="0.8"/>
<line x1="496.57" y1="84.5" x2="499.18" y2="84.5" stroke="#000" stroke-width="0.8"/>
<rect x="494.9" y="86.65" width="5.95" height="10.1" fill="#bbbbbb" stroke="#2a2a2a" stroke-width="0.8"/>
<line x1="505" y1="90" x2="505" y2="91.25" stroke="#000" stroke-width="0.8"/>
<line x1="503.7" y1="90" x2="506.3" y2="90" stroke="#000" stroke-width="0.8"/>
<rect x="501.25" y="91.25" width="7.5" height="5.9" fill="#fff" stroke="none" stroke-width="0"/>
<rect x="501.55" y="91.55" width="6.9" height="5.3" fill="url(#hatch)" stroke="#2a2a2a" stroke-width="0.6"/>
<text x="455.12" y="44.69" transform="rotate(0.03 455.12 44.69)" font-size="6.25" stroke="#111111" stroke-width="0.24" fill="#111111">(0.0037)</text>
<text x="457.05" y="81.43" transform="rotate(0.03 457.05 81.43)" font-size="6.2" font-weight="bold" letter-spacing="1.87" fill="#000" stroke="#000" stroke-width="0.5" stroke-linejoin="round">**</text>
<text x="489.84" y="72.61" transform="rotate(0.03 489.84 72.61)" font-size="6.03" stroke="#111111" stroke-width="0.24" fill="#111111">(0.0031)</text>
<text x="497.4" y="80.24" transform="rotate(0.03 497.4 80.24)" font-size="8.6" font-weight="bold" letter-spacing="1.9" fill="#000" stroke="#000" stroke-width="0.8" stroke-linejoin="round">**</text>
<polyline points="497.9,84.4 497.9,79.4 506.8,79.4 506.8,89.8" fill="none" stroke="#151515" stroke-width="0.85"/>
<text x="445.6" y="106.77" transform="rotate(0.03 445.6 106.77)" font-size="5.05" stroke="#111111" stroke-width="0.24" fill="#111111">d6 (tum+)</text>
<text x="484.4" y="106.73" transform="rotate(0.03 484.4 106.73)" font-size="4.94" stroke="#111111" stroke-width="0.24" fill="#111111">d27 (tum-)</text>
<text x="457.65" y="112.46" transform="rotate(0.03 457.65 112.46)" font-size="4.74" stroke="#111111" stroke-width="0.24" fill="#111111">time post injection</text>
<line x1="323.5" y1="135.75" x2="323.5" y2="207.4" stroke="#262626" stroke-width="0.95"/>
<line x1="323.1" y1="207" x2="403.5" y2="207" stroke="#262626" stroke-width="0.95"/>
<line x1="321.7" y1="207" x2="323.8" y2="207" stroke="#262626" stroke-width="0.75"/>
<text x="316.49" y="208.96" transform="rotate(0.03 316.49 208.96)" font-size="5.6" stroke="#111111" stroke-width="0.24" fill="#111111">0</text>
<line x1="321.7" y1="196.89" x2="323.8" y2="196.89" stroke="#262626" stroke-width="0.75"/>
<text x="305.57" y="198.85" transform="rotate(0.03 305.57 198.85)" font-size="5.6" stroke="#111111" stroke-width="0.24" fill="#111111">1,000</text>
<line x1="321.7" y1="186.79" x2="323.8" y2="186.79" stroke="#262626" stroke-width="0.75"/>
<text x="305.57" y="188.75" transform="rotate(0.03 305.57 188.75)" font-size="5.6" stroke="#111111" stroke-width="0.24" fill="#111111">2,000</text>
<line x1="321.7" y1="176.68" x2="323.8" y2="176.68" stroke="#262626" stroke-width="0.75"/>
<text x="305.57" y="178.64" transform="rotate(0.03 305.57 178.64)" font-size="5.6" stroke="#111111" stroke-width="0.24" fill="#111111">3,000</text>
<line x1="321.7" y1="166.57" x2="323.8" y2="166.57" stroke="#262626" stroke-width="0.75"/>
<text x="305.57" y="168.53" transform="rotate(0.03 305.57 168.53)" font-size="5.6" stroke="#111111" stroke-width="0.24" fill="#111111">4,000</text>
<line x1="321.7" y1="156.46" x2="323.8" y2="156.46" stroke="#262626" stroke-width="0.75"/>
<text x="305.57" y="158.42" transform="rotate(0.03 305.57 158.42)" font-size="5.6" stroke="#111111" stroke-width="0.24" fill="#111111">5,000</text>
<line x1="321.7" y1="146.36" x2="323.8" y2="146.36" stroke="#262626" stroke-width="0.75"/>
<text x="305.57" y="148.32" transform="rotate(0.03 305.57 148.32)" font-size="5.6" stroke="#111111" stroke-width="0.24" fill="#111111">6,000</text>
<line x1="321.7" y1="136.25" x2="323.8" y2="136.25" stroke="#262626" stroke-width="0.75"/>
<text x="305.57" y="138.21" transform="rotate(0.03 305.57 138.21)" font-size="5.6" stroke="#111111" stroke-width="0.24" fill="#111111">7,000</text>
<line x1="323.5" y1="207" x2="323.5" y2="208.8" stroke="#262626" stroke-width="0.75"/>
<line x1="363.5" y1="207" x2="363.5" y2="208.8" stroke="#262626" stroke-width="0.75"/>
<line x1="403.5" y1="207" x2="403.5" y2="208.8" stroke="#262626" stroke-width="0.75"/>
<text transform="translate(292.72 194.36) rotate(-89.97)" font-size="5.2" letter-spacing="0.1" fill="#1c1c1c" stroke="#1c1c1c" stroke-width="0.2">[3H]-T incorporation</text>
<text transform="translate(301.72 177.31) rotate(-89.97)" font-size="5.2" letter-spacing="0.17" fill="#1c1c1c" stroke="#1c1c1c" stroke-width="0.2">(cpm)</text>
<rect x="350.35" y="132.55" width="22.1" height="10.6" fill="#fff" stroke="#3a3a3a" stroke-width="0.9"/>
<text x="351.72" y="139.99" transform="rotate(0.03 351.72 139.99)" font-size="6" letter-spacing="0.4" fill="#000" stroke="#000" stroke-width="0.16">spleen</text>
<text x="322.12" y="132.94" transform="rotate(0.03 322.12 132.94)" font-size="6.25" stroke="#111111" stroke-width="0.24" fill="#111111">(0.0014)</text>
<line x1="333.25" y1="202" x2="333.25" y2="203.75" stroke="#000" stroke-width="0.8"/>
<line x1="331.95" y1="202" x2="334.55" y2="202" stroke="#000" stroke-width="0.8"/>
<rect x="329.9" y="204.15" width="6.7" height="2.85" fill="#ffffff" stroke="#2a2a2a" stroke-width="0.8"/>
<line x1="341" y1="135.5" x2="341" y2="160.75" stroke="#000" stroke-width="0.8"/>
<line x1="339.7" y1="135.5" x2="342.3" y2="135.5" stroke="#000" stroke-width="0.8"/>
<rect x="337" y="160.75" width="8" height="46.25" fill="#000"/>
<line x1="348.5" y1="182" x2="348.5" y2="190.25" stroke="#000" stroke-width="0.8"/>
<line x1="347.2" y1="182" x2="349.8" y2="182" stroke="#000" stroke-width="0.8"/>
<rect x="345.4" y="190.65" width="6.2" height="16.35" fill="#bbbbbb" stroke="#2a2a2a" stroke-width="0.8"/>
<line x1="356.12" y1="146.25" x2="356.12" y2="167" stroke="#000" stroke-width="0.8"/>
<line x1="354.82" y1="146.25" x2="357.43" y2="146.25" stroke="#000" stroke-width="0.8"/>
<rect x="352" y="167" width="8.25" height="40.4" fill="#fff" stroke="none" stroke-width="0"/>
<rect x="352.3" y="167.3" width="7.65" height="39.8" fill="url(#hatch)" stroke="#2a2a2a" stroke-width="0.6"/>
<rect x="371.65" y="206.15" width="6.2" height="0.85" fill="#ffffff" stroke="#2a2a2a" stroke-width="0.8"/>
<rect x="378.25" y="198" width="8" height="9" fill="#000"/>
<line x1="390" y1="192.5" x2="390" y2="194.5" stroke="#000" stroke-width="0.8"/>
<line x1="388.7" y1="192.5" x2="391.3" y2="192.5" stroke="#000" stroke-width="0.8"/>
<rect x="386.65" y="194.9" width="6.7" height="12.1" fill="#bbbbbb" stroke="#2a2a2a" stroke-width="0.8"/>
<line x1="397.75" y1="193.25" x2="397.75" y2="195" stroke="#000" stroke-width="0.8"/>
<line x1="396.45" y1="193.25" x2="399.05" y2="193.25" stroke="#000" stroke-width="0.8"/>
<rect x="393.75" y="195" width="8" height="12.4" fill="#fff" stroke="none" stroke-width="0"/>
<rect x="394.05" y="195.3" width="7.4" height="11.8" fill="url(#hatch)" stroke="#2a2a2a" stroke-width="0.6"/>
<text x="346.76" y="182.74" transform="rotate(0.03 346.76 182.74)" font-size="7.4" font-weight="bold" letter-spacing="-2.88" fill="#000" stroke="#000" stroke-width="0.6" stroke-linejoin="round">*</text>
<text x="333.69" y="217.06" transform="rotate(0.03 333.69 217.06)" font-size="5.31" stroke="#111111" stroke-width="0.24" fill="#111111">d6 (tum+)</text>
<text x="373.78" y="217.16" transform="rotate(0.03 373.78 217.16)" font-size="5.61" stroke="#111111" stroke-width="0.24" fill="#111111">d27 (tum-)</text>
<text x="344.65" y="221.91" transform="rotate(0.03 344.65 221.91)" font-size="5.33" stroke="#111111" stroke-width="0.24" fill="#111111">time post injection</text>
<line x1="437.7" y1="136.9" x2="437.7" y2="207.15" stroke="#262626" stroke-width="0.95"/>
<line x1="437.3" y1="206.75" x2="513" y2="206.75" stroke="#262626" stroke-width="0.95"/>
<line x1="435.9" y1="206.75" x2="438" y2="206.75" stroke="#262626" stroke-width="0.75"/>
<text x="431.14" y="208.6" transform="rotate(0.03 431.14 208.6)" font-size="5.3" stroke="#111111" stroke-width="0.24" fill="#111111">0</text>
<line x1="435.9" y1="196.84" x2="438" y2="196.84" stroke="#262626" stroke-width="0.75"/>
<text x="420.81" y="198.7" transform="rotate(0.03 420.81 198.7)" font-size="5.3" stroke="#111111" stroke-width="0.24" fill="#111111">1,000</text>
<line x1="435.9" y1="186.94" x2="438" y2="186.94" stroke="#262626" stroke-width="0.75"/>
<text x="420.81" y="188.79" transform="rotate(0.03 420.81 188.79)" font-size="5.3" stroke="#111111" stroke-width="0.24" fill="#111111">2,000</text>
<line x1="435.9" y1="177.03" x2="438" y2="177.03" stroke="#262626" stroke-width="0.75"/>
<text x="420.81" y="178.88" transform="rotate(0.03 420.81 178.88)" font-size="5.3" stroke="#111111" stroke-width="0.24" fill="#111111">3,000</text>
<line x1="435.9" y1="167.12" x2="438" y2="167.12" stroke="#262626" stroke-width="0.75"/>
<text x="420.81" y="168.98" transform="rotate(0.03 420.81 168.98)" font-size="5.3" stroke="#111111" stroke-width="0.24" fill="#111111">4,000</text>
<line x1="435.9" y1="157.21" x2="438" y2="157.21" stroke="#262626" stroke-width="0.75"/>
<text x="420.81" y="159.07" transform="rotate(0.03 420.81 159.07)" font-size="5.3" stroke="#111111" stroke-width="0.24" fill="#111111">5,000</text>
<line x1="435.9" y1="147.31" x2="438" y2="147.31" stroke="#262626" stroke-width="0.75"/>
<text x="420.81" y="149.16" transform="rotate(0.03 420.81 149.16)" font-size="5.3" stroke="#111111" stroke-width="0.24" fill="#111111">6,000</text>
<line x1="435.9" y1="137.4" x2="438" y2="137.4" stroke="#262626" stroke-width="0.75"/>
<text x="420.81" y="139.25" transform="rotate(0.03 420.81 139.25)" font-size="5.3" stroke="#111111" stroke-width="0.24" fill="#111111">7,000</text>
<line x1="437.7" y1="206.75" x2="437.7" y2="208.55" stroke="#262626" stroke-width="0.75"/>
<line x1="475.3" y1="206.75" x2="475.3" y2="208.55" stroke="#262626" stroke-width="0.75"/>
<line x1="513" y1="206.75" x2="513" y2="208.55" stroke="#262626" stroke-width="0.75"/>
<text transform="translate(411.91 187.54) rotate(-89.97)" font-size="4.9" letter-spacing="0.11" fill="#1c1c1c" stroke="#1c1c1c" stroke-width="0.2">[3H]-T incorporation</text>
<text transform="translate(418.41 171.29) rotate(-89.97)" font-size="4.9" letter-spacing="0.27" fill="#1c1c1c" stroke="#1c1c1c" stroke-width="0.2">(cpm)</text>
<rect x="454.75" y="133.65" width="20.2" height="10.8" fill="#fff" stroke="#3a3a3a" stroke-width="0.9"/>
<text x="456.53" y="140.98" transform="rotate(0.03 456.53 140.98)" font-size="5.6" letter-spacing="0.09" fill="#000" stroke="#000" stroke-width="0.16">spleen</text>
<rect x="442.4" y="204.65" width="6.45" height="2.1" fill="#ffffff" stroke="#2a2a2a" stroke-width="0.8"/>
<line x1="452.75" y1="179" x2="452.75" y2="186.75" stroke="#000" stroke-width="0.8"/>
<line x1="451.45" y1="179" x2="454.05" y2="179" stroke="#000" stroke-width="0.8"/>
<rect x="449.25" y="186.75" width="7" height="20" fill="#000"/>
<line x1="459.38" y1="195.5" x2="459.38" y2="198.75" stroke="#000" stroke-width="0.8"/>
<line x1="458.07" y1="195.5" x2="460.68" y2="195.5" stroke="#000" stroke-width="0.8"/>
<rect x="456.65" y="199.15" width="5.45" height="7.6" fill="#bbbbbb" stroke="#2a2a2a" stroke-width="0.8"/>
<line x1="466.25" y1="181.25" x2="466.25" y2="189.25" stroke="#000" stroke-width="0.8"/>
<line x1="464.95" y1="181.25" x2="467.55" y2="181.25" stroke="#000" stroke-width="0.8"/>
<rect x="462.5" y="189.25" width="7.5" height="17.9" fill="#fff" stroke="none" stroke-width="0"/>
<rect x="462.8" y="189.55" width="6.9" height="17.3" fill="url(#hatch)" stroke="#2a2a2a" stroke-width="0.6"/>
<rect x="480.4" y="206.15" width="6.2" height="0.6" fill="#ffffff" stroke="#2a2a2a" stroke-width="0.8"/>
<rect x="487" y="204.5" width="6.75" height="2.25" fill="#000"/>
<line x1="497.5" y1="176.25" x2="497.5" y2="183" stroke="#000" stroke-width="0.8"/>
<line x1="496.2" y1="176.25" x2="498.8" y2="176.25" stroke="#000" stroke-width="0.8"/>
<rect x="494.15" y="183.4" width="6.7" height="23.35" fill="#bbbbbb" stroke="#2a2a2a" stroke-width="0.8"/>
<line x1="504.62" y1="189.5" x2="504.62" y2="192" stroke="#000" stroke-width="0.8"/>
<line x1="503.32" y1="189.5" x2="505.93" y2="189.5" stroke="#000" stroke-width="0.8"/>
<rect x="501.25" y="192" width="6.75" height="15.15" fill="#fff" stroke="none" stroke-width="0"/>
<rect x="501.55" y="192.3" width="6.15" height="14.55" fill="url(#hatch)" stroke="#2a2a2a" stroke-width="0.6"/>
<text x="446.62" y="176.74" transform="rotate(0.03 446.62 176.74)" font-size="6.39" stroke="#111111" stroke-width="0.24" fill="#111111">(0.0129)</text>
<text x="490.14" y="173.57" transform="rotate(0.03 490.14 173.57)" font-size="5.92" stroke="#111111" stroke-width="0.24" fill="#111111">(0.0023)</text>
<text x="457.46" y="194.54" transform="rotate(0.03 457.46 194.54)" font-size="7.4" font-weight="bold" letter-spacing="-2.88" fill="#000" stroke="#000" stroke-width="0.6" stroke-linejoin="round">*</text>
<text x="502.9" y="190.84" transform="rotate(0.03 502.9 190.84)" font-size="8.6" font-weight="bold" letter-spacing="1.25" fill="#000" stroke="#000" stroke-width="0.8" stroke-linejoin="round">**</text>
<text x="445.5" y="216.91" transform="rotate(0.03 445.5 216.91)" font-size="4.88" stroke="#111111" stroke-width="0.24" fill="#111111">d6 (tum+)</text>
<text x="483.81" y="216.86" transform="rotate(0.03 483.81 216.86)" font-size="4.75" stroke="#111111" stroke-width="0.24" fill="#111111">d27 (tum-)</text>
<text x="456.95" y="222.26" transform="rotate(0.03 456.95 222.26)" font-size="4.75" stroke="#111111" stroke-width="0.24" fill="#111111">time post injection</text>
<rect x="320.93" y="259.82" width="22.65" height="10.35" fill="#fff" stroke="#3a3a3a" stroke-width="0.85"/>
<text x="346.49" y="266.94" transform="rotate(0.03 346.49 266.94)" font-size="7.31" stroke="#222" stroke-width="0.08" fill="#222">medium</text>
<rect x="407.6" y="259.7" width="22.9" height="11.1" fill="#000"/>
<text x="433.41" y="267.57" transform="rotate(0.03 433.41 267.57)" font-size="7.33" stroke="#222" stroke-width="0.08" fill="#222">M8-pcDNA</text>
<rect x="320.93" y="290.62" width="22.65" height="10.55" fill="#bbbbbb" stroke="#3a3a3a" stroke-width="0.85"/>
<text x="347.42" y="297.52" transform="rotate(0.03 347.42 297.52)" font-size="7.2" stroke="#222" stroke-width="0.08" fill="#222">M8-HLA-G1</text>
<rect x="407.5" y="290.5" width="23.3" height="11" fill="#fff" stroke="none" stroke-width="0"/>
<rect x="407.8" y="290.8" width="22.7" height="10.4" fill="url(#hatch2)" stroke="#2a2a2a" stroke-width="0.6"/>
<text x="433.41" y="297.09" transform="rotate(0.03 433.41 297.09)" font-size="7.39" stroke="#222" stroke-width="0.08" fill="#222">M8-HLA-G1+anti-HLA-G</text>
</svg>
</body></html>
